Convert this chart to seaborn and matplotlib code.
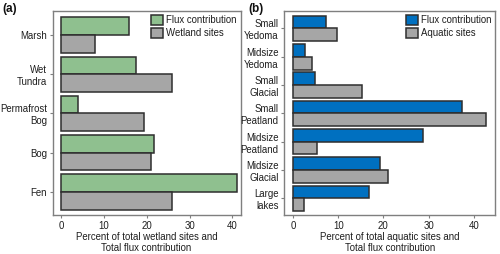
import matplotlib
matplotlib.use("Agg")
import matplotlib.pyplot as plt
from matplotlib.patches import Patch
import pandas as pd
import seaborn as sns

# panel (a): wetlands
wet_types = ["Marsh", "Wet\nTundra", "Permafrost\nBog", "Bog", "Fen"]
wet_flux = [15.8, 17.6, 3.9, 21.7, 41.0]
wet_sites = [7.9, 26.0, 19.3, 20.9, 26.0]

# panel (b): aquatic
aq_types = ["Small\nYedoma", "Midsize\nYedoma", "Small\nGlacial", "Small\nPeatland",
            "Midsize\nPeatland", "Midsize\nGlacial", "Large\nlakes"]
aq_flux = [7.2, 2.7, 4.9, 37.3, 28.7, 19.2, 16.7]
aq_sites = [9.7, 4.3, 15.3, 42.6, 5.4, 21.1, 2.4]

sns.set_theme(style="white")
plt.rcParams['font.family'] = ['Liberation Sans', 'DejaVu Sans']

FS = 6.9
TXT = "#1e1e1e"
EDGE = "#2e2e2e"
SPINE = "#7f7f7f"


def make_df(cats, flux, sites, site_lab):
    return pd.DataFrame({
        "type": cats * 2,
        "value": flux + sites,
        "group": ["Flux contribution"] * len(cats) + [site_lab] * len(cats),
    })


def panel(ax, cats, flux, sites, site_lab, col, xlim, xlab):
    df = make_df(cats, flux, sites, site_lab)
    pal = {"Flux contribution": col, site_lab: "#a6a6a6"}
    sns.barplot(data=df, x="value", y="type", hue="group", order=cats,
                hue_order=["Flux contribution", site_lab], palette=pal,
                orient="h", width=0.9, gap=0, edgecolor=EDGE, linewidth=1.1,
                saturation=1, errorbar=None, ax=ax, legend=False)
    ax.set_xlim(*xlim)
    ax.set_ylim(len(cats) - 0.4, -0.6)
    ax.set_xticks([0, 10, 20, 30, 40])
    ax.set_ylabel("")
    ax.set_xlabel(xlab, fontsize=FS, color=TXT, linespacing=1.1, labelpad=1)
    ax.tick_params(axis="both", labelsize=FS, labelcolor=TXT, length=2.5,
                   width=0.8, pad=1.5, direction="out", bottom=True, left=True,
                   color=SPINE)
    for lab in ax.get_yticklabels():
        lab.set_linespacing(1.25)
    for s in ax.spines.values():
        s.set_color(SPINE)
        s.set_linewidth(1.0)
    handles = [Patch(facecolor=col, edgecolor=EDGE, linewidth=1.1, label="Flux contribution"),
               Patch(facecolor="#a6a6a6", edgecolor=EDGE, linewidth=1.1, label=site_lab)]
    leg = ax.legend(handles=handles, loc="upper right", frameon=False, fontsize=FS,
                    handlelength=1.2, handleheight=1.2, handletextpad=0.35,
                    labelspacing=0.3, borderpad=0.15, borderaxespad=0.25)
    for t in leg.get_texts():
        t.set_color(TXT)


fig = plt.figure(figsize=(5.0, 2.54), dpi=100)
ax1 = fig.add_axes([0.105, 0.152, 0.376, 0.803])
ax2 = fig.add_axes([0.568, 0.152, 0.423, 0.803])

panel(ax1, wet_types, wet_flux, wet_sites, "Wetland sites", "#8fc08f", (-2.0, 41.9),
      "Percent of total wetland sites and\nTotal flux contribution")
panel(ax2, aq_types, aq_flux, aq_sites, "Aquatic sites", "#0070c0", (-2.0, 44.8),
      "Percent of total aquatic sites and\nTotal flux contribution")

fig.text(0.004, 0.988, "(a)", fontsize=8.5, fontweight="bold", va="top", ha="left", color="#111111")
fig.text(0.496, 0.988, "(b)", fontsize=8.5, fontweight="bold", va="top", ha="left", color="#111111")

fig.savefig("out.png", dpi=100)
